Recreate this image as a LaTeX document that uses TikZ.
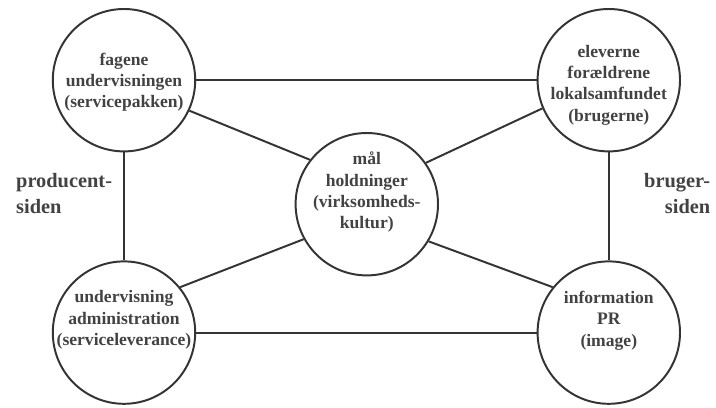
\documentclass[tikz,border=0pt]{standalone}
\usepackage{fontspec}
\setmainfont{Liberation Serif}
\definecolor{cInk}{RGB}{52,52,52}
\definecolor{cText}{RGB}{66,66,66}

\begin{document}
\begin{tikzpicture}[
  x=1cm,y=1cm, color=cInk,
  ring/.style ={circle, draw=cInk, line width=1.4pt, minimum size=3.56cm, inner sep=0pt},
  link/.style ={draw=cInk, line width=1.4pt},
  txt/.style  ={align=center, text=cText, font=\bfseries\fontsize{12.5}{15.2}\selectfont},
  side/.style ={text=cText, font=\bfseries\fontsize{14.5}{18.4}\selectfont},
]

\def\W{17.90}\def\H{10.175}
\def\xL{3.10}\def\xR{15.22}\def\yT{8.17}\def\yB{1.86}
\useasboundingbox (0,0) rectangle (\W,\H);

% ----- the five circles ---------------------------------------------------
\node[ring] (tl) at (\xL,\yT)   {};
\node[ring] (tr) at (\xR,\yT)   {};
\node[ring] (c)  at (9.17,5.07) {};
\node[ring] (bl) at (\xL,\yB)   {};
\node[ring] (br) at (\xR,\yB)   {};

% ----- texts (the lower three sit a little high in their circles) --------
\node[txt] (tlTxt) at ([yshift=-0.05cm]tl) {fagene\\ undervisningen\\ (servicepakken)};
\node[txt] (trTxt) at ([yshift=-0.12cm]tr) {eleverne\\ forældrene\\ lokalsamfundet\\ (brugerne)};
\node[txt] (cTxt)  at ([yshift=0.30cm]c)   {mål\\ holdninger\\ (virksomheds-\\ kultur)};
\node[txt] (blTxt) at ([yshift=0.32cm]bl)  {undervisning\\ administration\\ (serviceleverance)};
\node[txt] (brTxt) at ([yshift=0.30cm]br)  {information\\ PR\\ (image)};

% ----- frame round the centre --------------------------------------------
\draw[link] (tl.east)  -- (tr.west);
\draw[link] (bl.east)  -- (br.west);
\draw[link] (tl.south) -- (bl.north);
\draw[link] (tr.south) -- (br.north);

% ----- spokes to the centre ----------------------------------------------
\draw[link] (tl.-25) -- (c.142);
\draw[link] (tr.203) -- (c.35);
\draw[link] (bl.39)  -- (c.209);
\draw[link] (br.141) -- (c.-31);

% ----- the two sides -----------------------------------------------------
\node[side,anchor=west,align=left]  (prod) at (0.28,5.33)  {producent-\\ siden};
\node[side,anchor=east,align=right] (brug) at (17.88,5.33) {bruger-\\ siden};

\end{tikzpicture}
\end{document}
